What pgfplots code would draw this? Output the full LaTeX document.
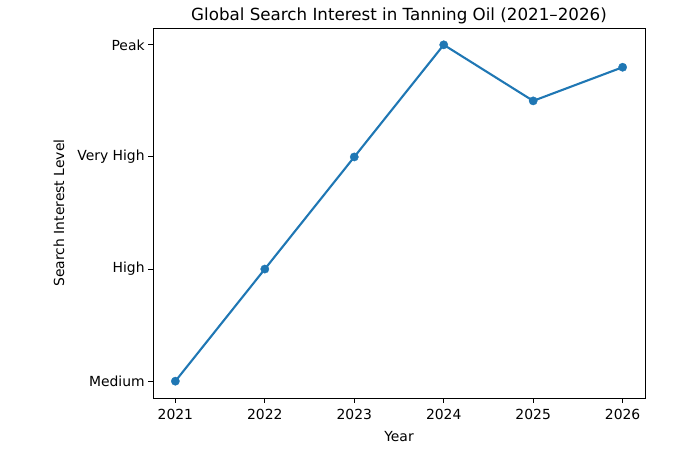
\documentclass[border=0pt]{standalone}
\usepackage{pgfplots}
\pgfplotsset{compat=1.18}
\usepackage{fontspec}
\setmainfont{DejaVu Sans}
\definecolor{tabblue}{HTML}{1F77B4}
\begin{document}
\begin{tikzpicture}
\useasboundingbox (-153pt,-52pt) rectangle (547pt,398pt);
\begin{axis}[
  at={(0pt,0pt)}, anchor=south west,
  scale only axis, width=492pt, height=370pt,
  xmin=2020.75, xmax=2026.25,
  ymin=0.85, ymax=4.15,
  xtick={2021,2022,2023,2024,2025,2026},
  ytick={1,2,3,4},
  yticklabels={Medium,High,Very High,Peak},
  /pgf/number format/assume math mode=true,
  xticklabel style={/pgf/number format/1000 sep={}, yshift=-3pt},
  ticklabel style={font=\fontsize{13.9}{16}\selectfont},
  label style={font=\fontsize{13.9}{16}\selectfont},
  title style={font=\fontsize{16.7}{19}\selectfont, yshift=-6pt},
  title={Global Search Interest in Tanning Oil (2021–2026)},
  xlabel={Year}, ylabel={Search Interest Level},
  tick align=outside, major tick length=4.9pt,
  tick style={black, line width=0.9pt},
  xtick pos=bottom, ytick pos=left,
  axis line style={line width=0.9pt},
  xlabel style={yshift=-5pt},
  ylabel style={yshift=6pt},
]
\addplot[color=tabblue, line width=2.1pt, mark=*, mark size=4.2pt, mark options={solid, fill=tabblue, draw=tabblue, line width=0.3pt}]
coordinates {(2021,1) (2022,2) (2023,3) (2024,4) (2025,3.5) (2026,3.8)};
\end{axis}
\end{tikzpicture}
\end{document}
